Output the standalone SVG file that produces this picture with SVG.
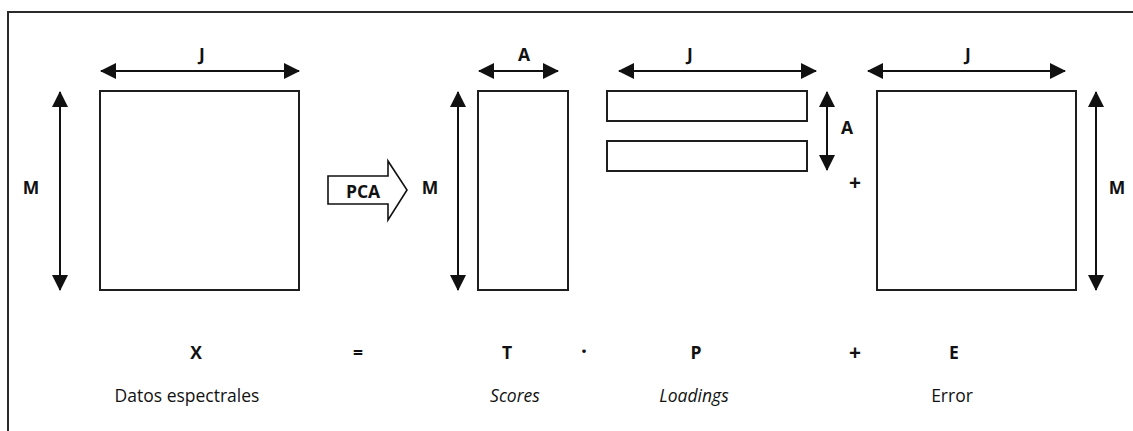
<svg xmlns="http://www.w3.org/2000/svg" width="1133" height="431" viewBox="0 0 1133 431">
  <style>
    .frame { fill: none; stroke: #2a2a2a; stroke-width: 2; }
    .matrix { fill: #fff; stroke: #1e1e1e; stroke-width: 2; }
    .dim { fill: none; stroke: #111; stroke-width: 2; marker-start: url(#tip); marker-end: url(#tip); }
    .pca { fill: #fff; stroke: #111; stroke-width: 1.6; stroke-linejoin: miter; }
    text { font-family: "Open Sans", "Noto Sans", sans-serif; font-size: 17.5px; fill: #111; text-anchor: middle; }
    .sym { font-weight: bold; }
    .op { font-size: 21px; }
    .cap { font-size: 17.5px; }
    .it { font-style: italic; }
  </style>
  <defs>
    <marker id="tip" viewBox="0 0 16 16" refX="15" refY="8" markerWidth="16" markerHeight="16" markerUnits="userSpaceOnUse" orient="auto-start-reverse">
      <path d="M0,0 L16,8 L0,16 Z" fill="#111"/>
    </marker>
  </defs>

  <!-- page frame: top and left edges only -->
  <path class="frame" d="M8,431 L8,12 L1133,12"/>

  <!-- X: spectral data matrix -->
  <g id="matrix-x">
    <rect class="matrix" x="100" y="91" width="199" height="199"/>
    <text class="sym" x="202" y="61">J</text>
    <text class="sym" x="31" y="194">M</text>
  </g>

  <!-- PCA block arrow -->
  <g id="pca">
    <polygon class="pca" points="328,176 388,176 388,161 407,190 388,220 388,204 328,204"/>
    <text class="sym" x="363" y="198">PCA</text>
  </g>

  <!-- T: scores matrix -->
  <g id="matrix-t">
    <rect class="matrix" x="478" y="91" width="90" height="199"/>
    <text class="sym" x="524" y="61">A</text>
    <text class="sym" x="430" y="194">M</text>
  </g>

  <!-- P: loadings (two row vectors) -->
  <g id="matrix-p">
    <rect class="matrix" x="607" y="91" width="200" height="30"/>
    <rect class="matrix" x="607" y="141" width="200" height="30"/>
    <text class="sym" x="690" y="61">J</text>
    <text class="sym" x="847" y="134">A</text>
    <text class="sym op" x="855" y="190">+</text>
  </g>

  <!-- E: residual matrix -->
  <g id="matrix-e">
    <rect class="matrix" x="877" y="91" width="199" height="199"/>
    <text class="sym" x="968" y="61">J</text>
    <text class="sym" x="1117" y="194">M</text>
  </g>

  <!-- dimension arrows -->
  <g id="connectors">
    <line class="dim" x1="101" y1="71" x2="299" y2="71"/>
    <line class="dim" x1="60" y1="92" x2="60" y2="290"/>
    <line class="dim" x1="479" y1="71" x2="558" y2="71"/>
    <line class="dim" x1="458" y1="92" x2="458" y2="290"/>
    <line class="dim" x1="619" y1="71" x2="816" y2="71"/>
    <line class="dim" x1="827" y1="92" x2="827" y2="170"/>
    <line class="dim" x1="868" y1="71" x2="1065" y2="71"/>
    <line class="dim" x1="1096" y1="92" x2="1096" y2="290"/>
  </g>

  <!-- equation row -->
  <g id="equation">
    <text class="sym" x="196" y="359">X</text>
    <text class="sym" x="358" y="359">=</text>
    <text class="sym" x="507" y="359">T</text>
    <text class="sym op" x="584" y="359">·</text>
    <text class="sym" x="696" y="359">P</text>
    <text class="sym op" x="855" y="360">+</text>
    <text class="sym" x="954" y="359">E</text>
  </g>

  <!-- captions -->
  <g id="captions">
    <text class="cap" x="187" y="402">Datos espectrales</text>
    <text class="cap it" x="515" y="402">Scores</text>
    <text class="cap it" x="694" y="402">Loadings</text>
    <text class="cap" x="952" y="402">Error</text>
  </g>
</svg>
